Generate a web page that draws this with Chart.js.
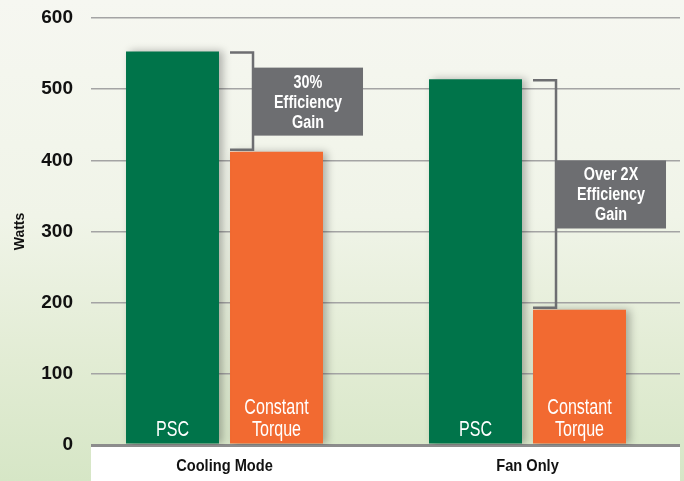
<!DOCTYPE html>
<html>
<head>
<meta charset="utf-8">
<script src="https://cdn.jsdelivr.net/npm/chart.js@4/dist/chart.umd.min.js"></script>
<style>
  html, body { margin: 0; padding: 0; background: #fff; }
  #wrap { width: 684px; height: 481px; }
</style>
</head>
<body>
<div id="wrap"><canvas id="myChart"></canvas></div>
<script>
const categories = ['Cooling Mode', 'Fan Only'];
const seriesNames = ['PSC', 'Constant Torque'];
const pscWatts = [553, 514];
const torqueWatts = [412, 190];
const yTickValues = [0, 100, 200, 300, 400, 500, 600];
const gainNotes = [['30%', 'Efficiency', 'Gain'], ['Over 2X', 'Efficiency', 'Gain']];

const sans = '"Liberation Sans", Arial, sans-serif';
const green = '#00744a';
const orange = '#f26a31';
const noteGray = '#6d6e71';

// texto "condensado": se escala en horizontal
function narrowText(c, text, x, y, sx) {
    c.save();
    c.translate(x, y);
    c.scale(sx, 1);
    c.fillText(text, 0, 0);
    c.restore();
}

const backdrop = {
    id: 'backdrop',
    beforeDraw(chart) {
        const c = chart.ctx, a = chart.chartArea;
        const g = c.createLinearGradient(0, 0, 0, chart.height);
        g.addColorStop(0, '#f6f7f1');
        g.addColorStop(0.45, '#f0f4e8');
        g.addColorStop(0.75, '#e2ecd4');
        g.addColorStop(1, '#d6e6c6');
        c.save();
        c.fillStyle = g;
        c.fillRect(0, 0, chart.width, chart.height);
        c.fillStyle = '#ffffff';
        c.fillRect(a.left, a.bottom, a.right - a.left, chart.height - a.bottom);
        c.restore();
    },
    beforeDatasetsDraw(chart) {
        const c = chart.ctx;
        c.save();
        c.shadowColor = 'rgba(0,0,0,0.28)';
        c.shadowBlur = 8;
        c.shadowOffsetX = 4;
        c.shadowOffsetY = 0;
    },
    afterDatasetsDraw(chart) {
        const c = chart.ctx;
        c.restore();
        const m0 = chart.getDatasetMeta(0), m1 = chart.getDatasetMeta(1);
        c.save();
        c.textAlign = 'center';
        categories.forEach((cat, i) => {
            const p = m0.data[i], t = m1.data[i];
            c.fillStyle = '#ffffff';
            c.textBaseline = 'alphabetic';
            c.font = '22px ' + sans;
            narrowText(c, 'PSC', p.x, 436, 0.73);
            narrowText(c, 'Constant', t.x, 414, 0.73);
            narrowText(c, 'Torque', t.x, 436, 0.73);

            // corchete + caja gris
            const left = t.x - t.width / 2;
            const bx = left + 23;
            c.strokeStyle = noteGray;
            c.lineWidth = 2.5;
            c.beginPath();
            c.moveTo(left, p.y + 1);
            c.lineTo(bx, p.y + 1);
            c.lineTo(bx, t.y - 2);
            c.lineTo(left, t.y - 2);
            c.stroke();
            const mid = (p.y + t.y) / 2;
            const bw = 110, bh = 68;
            c.fillStyle = noteGray;
            c.fillRect(bx, mid - bh / 2, bw, bh);
            c.fillStyle = '#ffffff';
            c.font = 'bold 18px ' + sans;
            c.textBaseline = 'middle';
            gainNotes[i].forEach((line, k) => {
                narrowText(c, line, bx + bw / 2, mid - 19 + k * 20, 0.8);
            });
        });
        c.restore();
    },
    afterDraw(chart) {
        // etiquetas de categoría bajo el eje
        const c = chart.ctx, x = chart.scales.x;
        c.save();
        c.fillStyle = '#111';
        c.textAlign = 'center';
        c.textBaseline = 'middle';
        c.font = 'bold 17px ' + sans;
        x.ticks.forEach(t => {
            narrowText(c, categories[t.value], x.getPixelForValue(t.value), 466, 0.86);
        });
        c.restore();
    }
};

const ctx = document.getElementById('myChart');

var myChart = new Chart(ctx, {
    type: 'bar',
    data: {
        datasets: [{
            label: seriesNames[0],
            data: pscWatts.map((v, i) => ({ x: i, y: v })),
            backgroundColor: green,
            borderWidth: 0
        }, {
            label: seriesNames[1],
            data: torqueWatts.map((v, i) => ({ x: i, y: v })),
            backgroundColor: orange,
            borderWidth: 0
        }]
    },
    options: {
        responsive: true,
        maintainAspectRatio: false,
        animation: false,
        categoryPercentage: 0.6865,
        barPercentage: 0.894,
        layout: {
            padding: { top: 18, right: 4, left: 0, bottom: 0 }
        },
        plugins: {
            legend: { display: false },
            tooltip: { enabled: false }
        },
        scales: {
            x: {
                type: 'linear',
                min: -0.4406,
                max: 1.5033,
                offset: false,
                afterBuildTicks: (scale) => {
                    scale.ticks = categories.map((c, i) => ({ value: i }));
                },
                afterFit: (scale) => {
                    scale.height = 36;
                    scale.paddingLeft = 0;
                    scale.paddingRight = 0;
                },
                grid: { display: false },
                border: { display: false },
                ticks: { display: false }
            },
            y: {
                min: 0,
                max: 600,
                afterBuildTicks: (scale) => {
                    scale.ticks = yTickValues.map(v => ({ value: v }));
                },
                afterFit: (scale) => {
                    scale.width = 91;
                    scale.paddingTop = 0;
                    scale.paddingBottom = 0;
                },
                border: { display: false },
                grid: {
                    drawTicks: false,
                    color: (c) => c.tick && c.tick.value === 0 ? '#8c8c8c' : '#a4a4a4',
                    lineWidth: (c) => c.tick && c.tick.value === 0 ? 3 : 1.5
                },
                ticks: {
                    padding: 18,
                    color: '#111',
                    font: { family: sans, size: 19, weight: 'bold' }
                },
                title: {
                    display: true,
                    text: 'Watts',
                    color: '#111',
                    font: { family: sans, size: 14, weight: 'bold' },
                    padding: { top: 12, bottom: 0 }
                }
            }
        }
    },
    plugins: [backdrop]
});
</script>
</body>
</html>
